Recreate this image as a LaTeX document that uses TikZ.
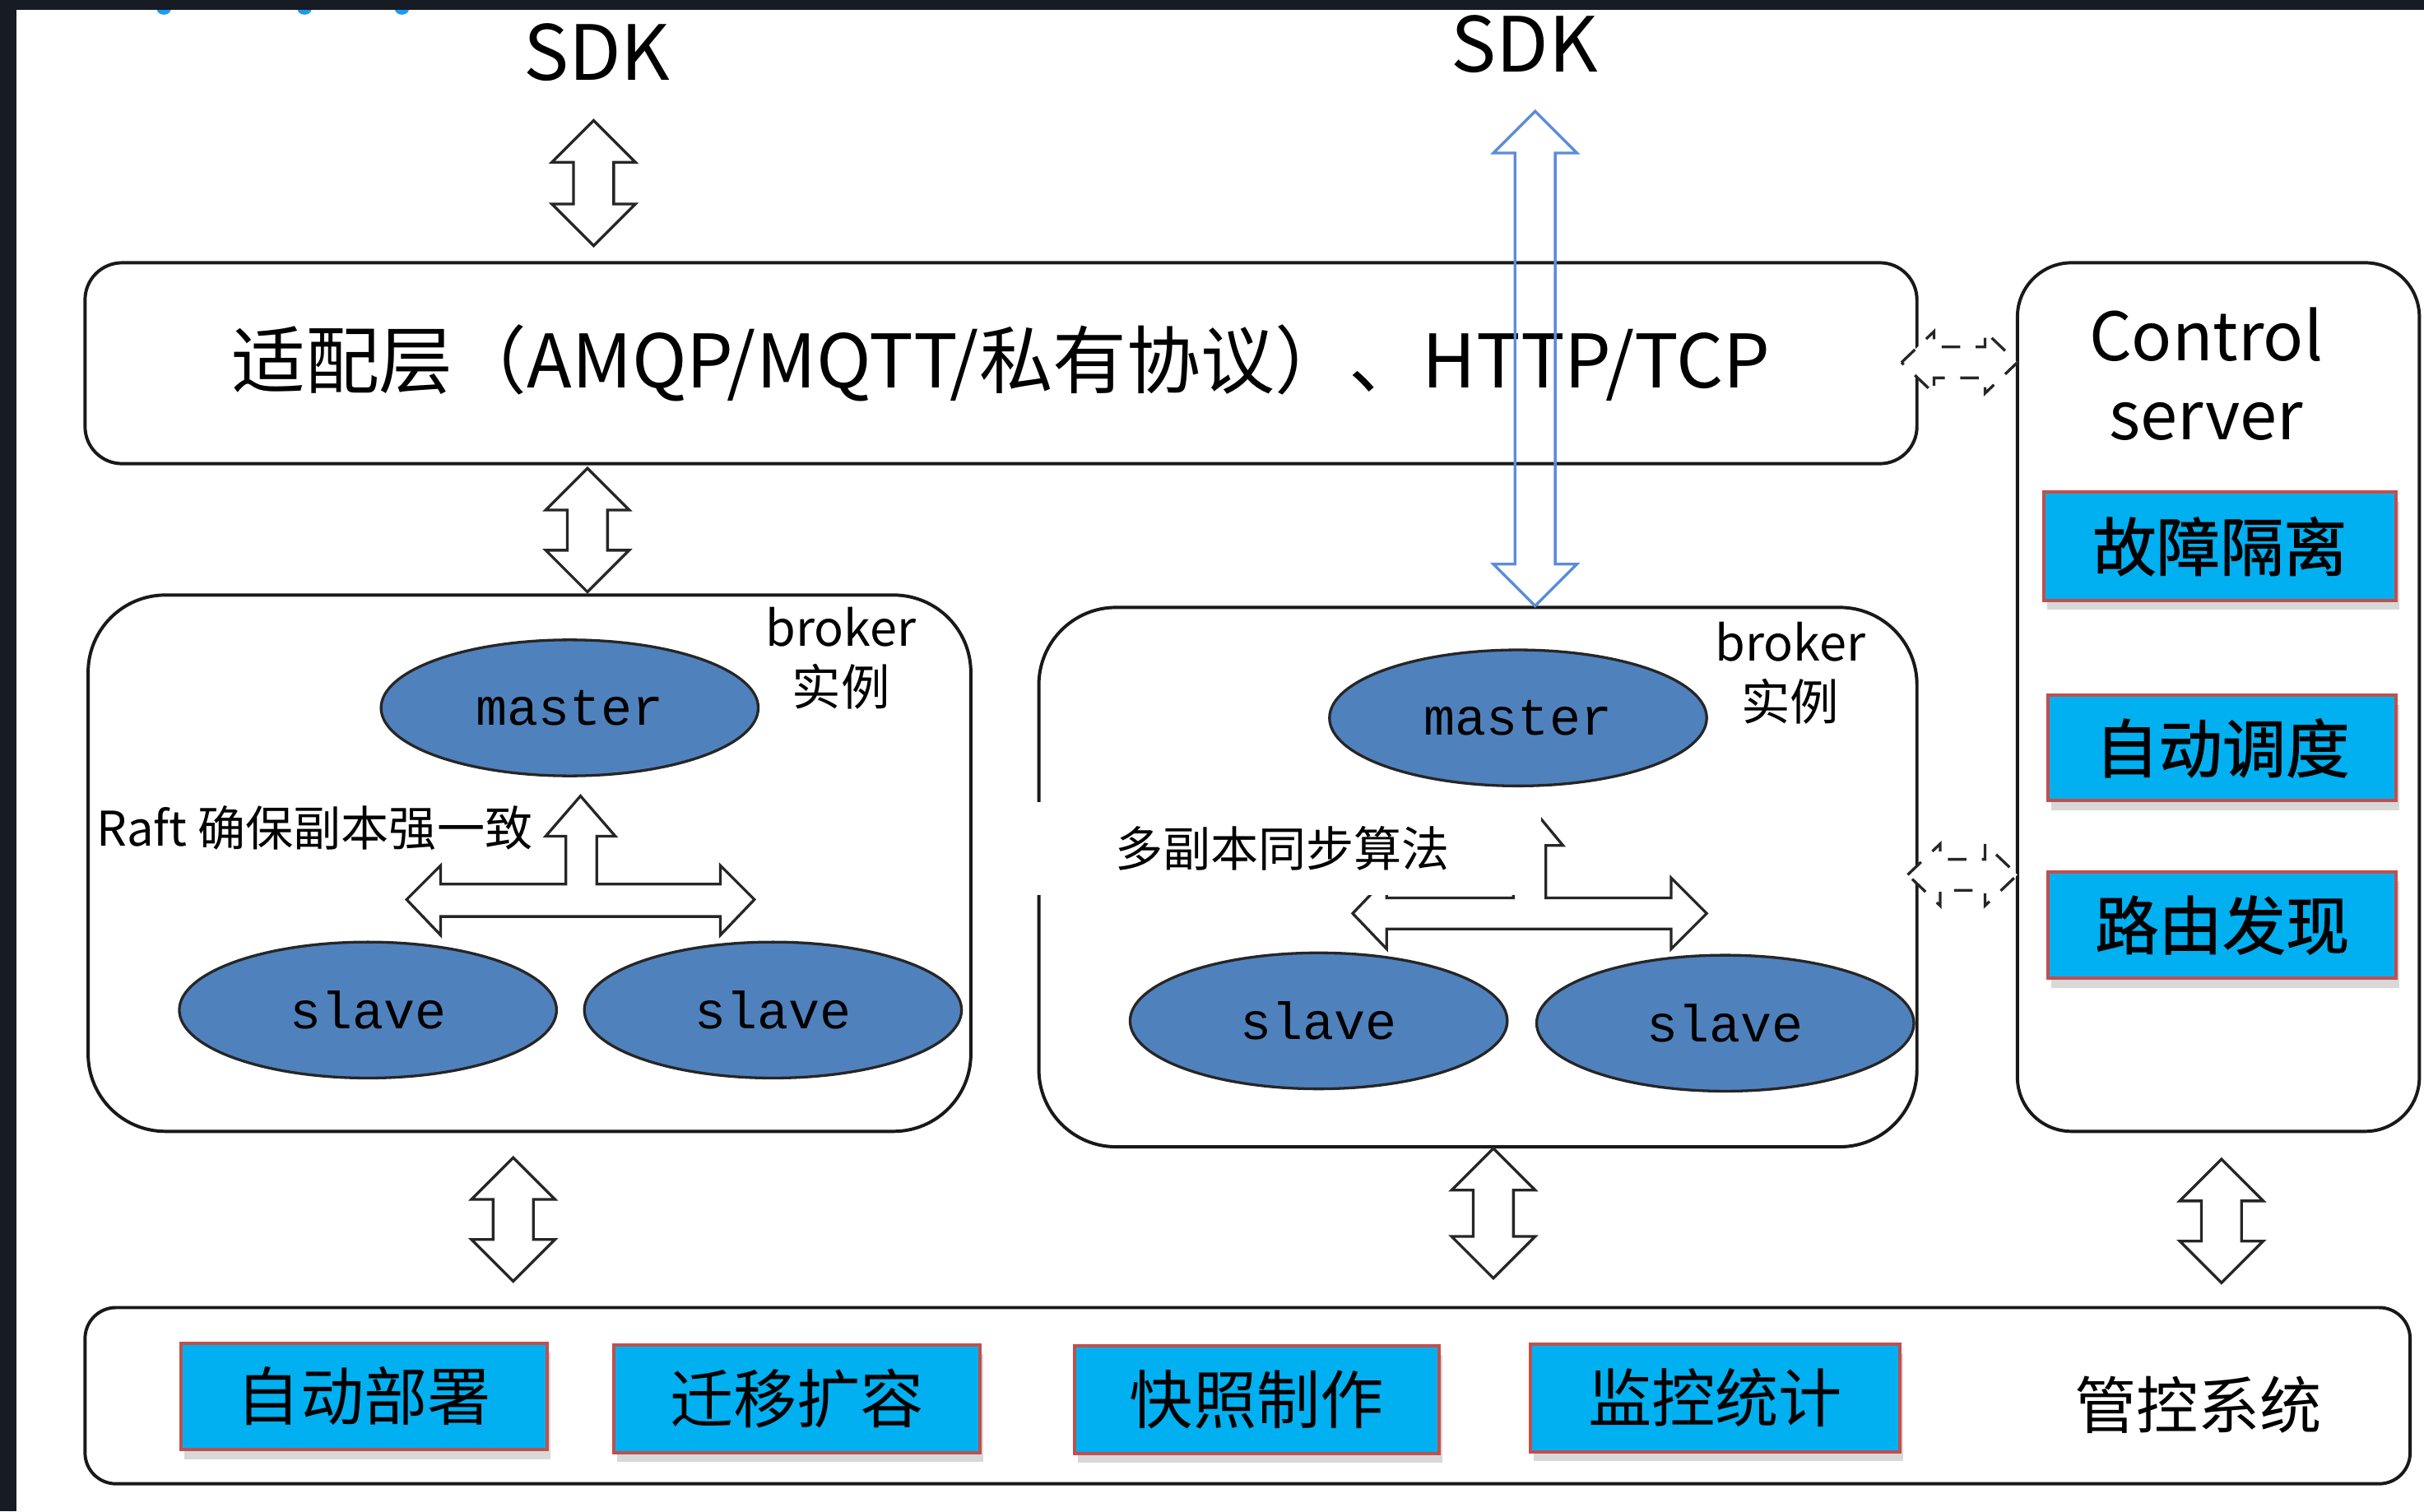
\documentclass[tikz,border=0pt]{standalone}
\usepackage{fontspec}
\setmainfont{Noto Sans CJK SC}
\setmonofont{Liberation Mono}
\newfontfamily\cjkheavy[FakeBold=1.3]{Noto Sans CJK SC}
\usetikzlibrary{shapes.geometric,shadows,calc}

\definecolor{frame}{HTML}{171B24}
\definecolor{cyanbox}{HTML}{00B0F0}
\definecolor{redline}{HTML}{C0504D}
\definecolor{ballblue}{HTML}{4F81BD}
\definecolor{sdkblue}{HTML}{5B8DD6}
\definecolor{dotblue}{HTML}{1E9BF0}

\newcommand{\vblockarrow}[3][]{%
  \draw[blockarrow,#1] let \p1=(#2), \p2=(#3) in
    (\x1,\y1) -- (\x1-2.7mm,\y1-2.7mm) -- (\x1-1.3mm,\y1-2.7mm)
    -- (\x1-1.3mm,\y2+2.7mm) -- (\x1-2.7mm,\y2+2.7mm) -- (\x2,\y2)
    -- (\x1+2.7mm,\y2+2.7mm) -- (\x1+1.3mm,\y2+2.7mm)
    -- (\x1+1.3mm,\y1-2.7mm) -- (\x1+2.7mm,\y1-2.7mm) -- cycle;}

\newcommand{\hblockarrow}[3][]{%
  \draw[blockarrow,#1] let \p1=(#2), \p2=(#3) in
    (\x1,\y1) -- (\x1+2.1mm,\y1+2mm) -- (\x1+2.1mm,\y1+1mm)
    -- (\x2-2.1mm,\y1+1mm) -- (\x2-2.1mm,\y1+2mm) -- (\x2,\y1)
    -- (\x2-2.1mm,\y1-2mm) -- (\x2-2.1mm,\y1-1mm)
    -- (\x1+2.1mm,\y1-1mm) -- (\x1+2.1mm,\y1-2mm) -- cycle;}

\begin{document}
\begin{tikzpicture}[x=0.1mm, y=-0.1mm,
  layerbox/.style={draw=black!90, line width=0.6pt, rounded corners=2.4mm, inner sep=0pt},
  funcbox/.style={draw=redline, line width=0.6pt, fill=cyanbox, inner sep=0pt,
    font=\fontsize{11.7pt}{13pt}\selectfont,
    drop shadow={shadow xshift=0.2mm, shadow yshift=-0.6mm, opacity=0.3}},
  role/.style={ellipse, draw=black!85, line width=0.5pt, fill=ballblue, minimum width=24.4mm,
    minimum height=8.8mm, inner sep=0pt, font=\ttfamily\fontsize{9.6pt}{11pt}\selectfont},
  blockarrow/.style={draw=black!85, line width=0.5pt, fill=white},
  bigtxt/.style={font=\fontsize{14pt}{16pt}\selectfont, inner sep=0pt},
  smalltxt/.style={font=\fontsize{8.8pt}{10.8pt}\selectfont, inner sep=0pt, align=center}]

\fill[white] (0,0) rectangle (1568,978);
\useasboundingbox (0,0) rectangle (1568,978);
\fill[dotblue] (106,6) ellipse (4.5 and 3.5);
\fill[dotblue] (197,6) ellipse (4.5 and 3.5);
\fill[dotblue] (260,6) ellipse (4.5 and 3.5);
\fill[frame] (0,0) rectangle (1568,6.4);
\fill[frame] (0,0) rectangle (10.7,978);

\node[bigtxt] (sdkL) at (386,34) {SDK};
\node[bigtxt] (sdkR) at (986,28.5) {SDK};
\node[layerbox, minimum width=118.5mm, minimum height=13mm, font=\fontsize{13.6pt}{16pt}\selectfont] (adapt) at (647.5,235) {适配层（AMQP/MQTT/私有协议）、HTTP/TCP};

\node[layerbox, rounded corners=3.5mm, minimum width=26mm, minimum height=56.2mm] (ctrl) at (1435,451) {};
\node[align=center, inner sep=0pt, font=\fontsize{12.3pt}{14.5pt}\selectfont] (ctrltitle) at (1427,242) {Control\\server};
\node[funcbox, minimum width=22.8mm, minimum height=7mm] (fault) at (1436,353.5) {\cjkheavy 故障隔离};
\node[funcbox, minimum width=22.5mm, minimum height=6.8mm] (sched) at (1437.5,484) {\cjkheavy 自动调度};
\node[funcbox, minimum width=22.5mm, minimum height=6.9mm] (route) at (1437.5,598.5) {\cjkheavy 路由发现};

\node[layerbox, rounded corners=5mm, minimum width=57.1mm, minimum height=34.7mm] (brokerL) at (342.5,558.5) {};
\node[smalltxt, font=\fontsize{9pt}{10.8pt}\selectfont] (instL) at (544,426) {broker\\实例};
\node[role] (masterL) at (368.5,458) {master};
\node[role] (slaveL1) at (238,653.5) {slave};
\node[role] (slaveL2) at (500,653.5) {slave};
\node[smalltxt] (raft) at (203.5,536) {Raft 确保副本强一致};
\draw[blockarrow] (263,582) -- (285,560) -- (285,572) -- (366,572) -- (366,541) -- (353,541)
  -- (375.5,515) -- (398,541) -- (386,541) -- (386,572) -- (466,572) -- (466,560) -- (488,582)
  -- (466,605) -- (466,593) -- (285,593) -- (285,605) -- cycle;

\node[layerbox, rounded corners=5mm, minimum width=56.8mm, minimum height=34.9mm] (brokerR) at (956,567.5) {};
\node[smalltxt, font=\fontsize{9pt}{10.8pt}\selectfont] (instR) at (1158,435.5) {broker\\实例};
\node[role] (masterR) at (982,464.5) {master};
\node[role] (slaveR1) at (853,660.5) {slave};
\node[role] (slaveR2) at (1116,662) {slave};
\draw[blockarrow] (875,591) -- (897,568) -- (897,581) -- (979,581) -- (979,547) -- (968,547)
  -- (989.5,521) -- (1011,547) -- (1000,547) -- (1000,581) -- (1081,581) -- (1081,568) -- (1104,591)
  -- (1081,614) -- (1081,601) -- (897,601) -- (897,614) -- cycle;
\node[smalltxt, fill=white, minimum width=33.5mm, minimum height=6mm] (sync) at (829.5,549) {多副本同步算法};

\node[layerbox, rounded corners=2mm, minimum width=150.4mm, minimum height=11.4mm] (mgmt) at (807,903) {};
\node[funcbox, minimum width=23.7mm, minimum height=6.9mm] (deploy) at (235.5,903.5) {自动部署};
\node[funcbox, minimum width=23.7mm, minimum height=7mm] (migrate) at (515.5,905) {迁移扩容};
\node[funcbox, minimum width=23.6mm, minimum height=7mm] (snap) at (813,905.5) {快照制作};
\node[funcbox, minimum width=23.9mm, minimum height=7mm] (monitor) at (1109.5,904.5) {监控统计};
\node[inner sep=0pt, font=\fontsize{11.4pt}{13pt}\selectfont] (mgmttitle) at (1422,909) {管控系统};

\coordinate (sdkLa) at (384,78);
\coordinate (sdkLb) at (384,159);
\coordinate (adaptA) at (380,303);
\coordinate (adaptB) at (380,383);
\coordinate (sdkRa) at (993,72);
\coordinate (sdkRb) at (993,392);
\coordinate (brkLa) at (332,749);
\coordinate (brkLb) at (332,829);
\coordinate (brkRa) at (966,743);
\coordinate (brkRb) at (966,827);
\coordinate (ctlA) at (1437,750);
\coordinate (ctlB) at (1437,830);
\coordinate (dashA1) at (1230,234.5);
\coordinate (dashA2) at (1305,234.5);
\coordinate (dashB1) at (1234,566);
\coordinate (dashB2) at (1305,566);

\vblockarrow{sdkLa}{sdkLb}
\vblockarrow{adaptA}{adaptB}
\vblockarrow[draw=sdkblue, fill=none]{sdkRa}{sdkRb}
\vblockarrow{brkLa}{brkLb}
\vblockarrow{brkRa}{brkRb}
\vblockarrow{ctlA}{ctlB}
\hblockarrow[dash pattern=on 1.2mm off 1mm]{dashA1}{dashA2}
\hblockarrow[dash pattern=on 1.2mm off 1mm]{dashB1}{dashB2}
\end{tikzpicture}
\end{document}
